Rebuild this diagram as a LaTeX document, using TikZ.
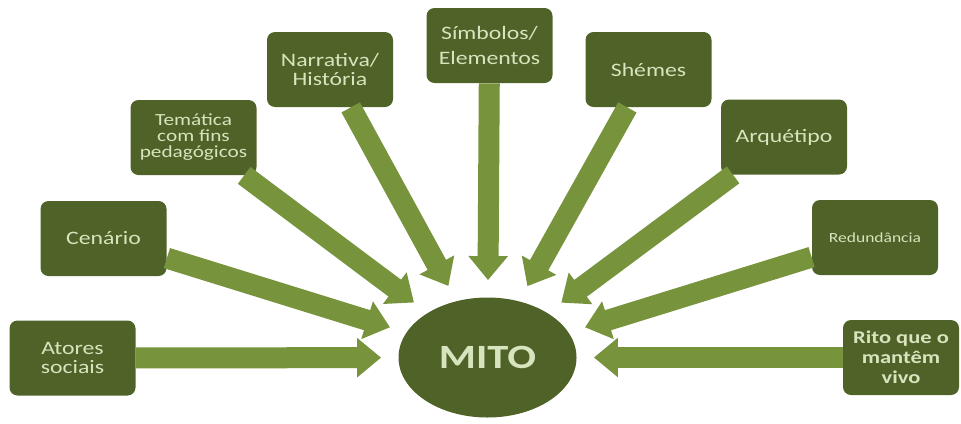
\documentclass[tikz,border=0pt]{standalone}
\usepackage{fontspec}
\newfontfamily\boxfont{Carlito}[FakeStretch=1.25]
\usepackage{xcolor}
\definecolor{MitoOlive}{HTML}{4F6228}
\definecolor{MitoLeaf}{HTML}{77933C}
\definecolor{MitoPale}{HTML}{D7E4BD}
\usepackage{tikz}
\usetikzlibrary{arrows.meta,shapes.geometric}
\tikzset{
  mbox/.style={fill=MitoOlive,rounded corners=4pt,align=center,minimum width=63pt,minimum height=37.5pt,inner sep=2pt,text=MitoPale,font=\boxfont\fontsize{9.5}{9.5}\selectfont},
  mboxtall/.style={mbox,font=\boxfont\fontsize{9.5}{12.5}\selectfont},
  mboxsmall/.style={mbox,font=\boxfont\fontsize{8.5}{8}\selectfont},
  mboxtiny/.style={mbox,font=\boxfont\fontsize{7}{8}\selectfont},
  mboxbold/.style={mbox,font=\boxfont\bfseries\fontsize{9}{10}\selectfont},
  mcore/.style={ellipse,fill=MitoOlive,minimum width=89pt,minimum height=60pt,inner sep=0pt,text=MitoPale,font=\boxfont\bfseries\fontsize{17}{17}\selectfont},
  mflow/.style={-{Triangle[length=12pt 0,width=19pt 0]},draw=MitoLeaf,fill=MitoLeaf,line width=10.5pt,shorten >=8.5pt}
}
\begin{document}
\begin{tikzpicture}[x=0.5pt,y=-0.5pt]
  \useasboundingbox (0,0) rectangle (961,423);
  \node[mcore] (mito) at (487.5,357.5) {MITO};
  \node[mbox] (atores) at (72.5,358) {Atores\\sociais};
  \node[mbox] (cenario) at (103.5,238.5) {Cenário};
  \node[mboxsmall] (tematica) at (193.5,137.5) {Temática\\com fins\\pedagógicos};
  \node[mbox] (narrativa) at (330,69.5) {Narrativa/\\História};
  \node[mboxtall] (simbolos) at (489.5,45.5) {Símbolos/\\Elementos};
  \node[mbox] (shemes) at (648.5,69.5) {Shémes};
  \node[mbox] (arquetipo) at (784,137) {Arquétipo};
  \node[mboxtiny] (redundancia) at (875,237.5) {Redundância};
  \node[mboxbold,minimum width=58pt] (rito) at (901,357.5) {Rito que o\\mantêm\\vivo};
  \draw[mflow] (atores) -- (mito);
  \draw[mflow] (cenario) -- (mito);
  \draw[mflow] (tematica) -- (mito);
  \draw[mflow] (narrativa) -- (mito);
  \draw[mflow] (simbolos) -- (mito);
  \draw[mflow] (shemes) -- (mito);
  \draw[mflow] (arquetipo) -- (mito);
  \draw[mflow] (redundancia) -- (mito);
  \draw[mflow] (rito) -- (mito);
\end{tikzpicture}
\end{document}
